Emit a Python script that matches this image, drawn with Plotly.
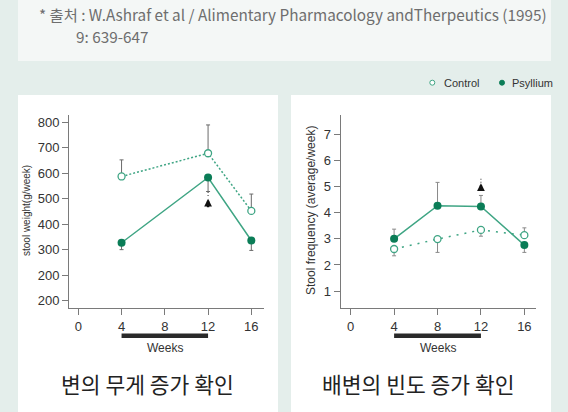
import plotly.graph_objects as go

W, H = 568, 412

# ---------------- data ----------------
weeks_w = [4, 12, 16]
weight_control = [587, 678, 452]
weight_control_err_up = [65, 111, 66]
weight_psyllium = [327, 583, 336]
weight_psyllium_err_down = [27, 55, 39]

weeks_f = [4, 8, 12, 16]
freq_psyllium = [3.0, 4.27, 4.24, 2.76]
freq_psyllium_err_up = [0.37, 0.89, 0.42, 0.0]
freq_psyllium_err_down = [0.0, 0.0, 0.0, 0.28]
freq_control = [2.61, 2.99, 3.34, 3.14]
freq_control_err_up = [0.0, 0.0, 0.0, 0.28]
freq_control_err_down = [0.26, 0.51, 0.24, 0.0]

x_ticks = [0, 4, 8, 12, 16]
weight_tickvals = [100, 200, 300, 400, 500, 600, 700, 800]
weight_ticktext = ["200", "200", "300", "400", "500", "600", "700", "800"]
freq_tickvals = [1, 2, 3, 4, 5, 6, 7]

treatment_period = [4, 12]
arrow_week = 12
weight_arrow = [500, 460]       # tip, tail
weight_arrow_dots = [526, 503]
freq_arrow = [5.13, 4.78]
freq_arrow_dots = [5.30, 5.14]

title_left = "변의 무게 증가 확인"
title_right = "배변의 빈도 증가 확인"
source_line1 = "* 출처 : W.Ashraf et al / Alimentary Pharmacology andTherpeutics (1995)"
source_line2 = "9: 639-647"

# ---------------- style ----------------
GREEN = "#0b7d57"
LINE_GREEN = "#3fa584"
ERR = "#6a6a6a"
AX = "#7a7a7a"
TXT = "#333333"
LAT = "Liberation Sans, Arial, sans-serif"
KR = "Noto Sans CJK KR, sans-serif"


def px(x):
    return x / W


def py(y):
    return 1 - y / H


fig = go.Figure()

# left chart
fig.add_trace(go.Scatter(
    x=weeks_w, y=weight_control, mode="lines+markers", xaxis="x", yaxis="y",
    line=dict(color=LINE_GREEN, width=1.5, dash="2px,2px"),
    marker=dict(size=7, color="white", line=dict(color=LINE_GREEN, width=1.3)),
    error_y=dict(type="data", symmetric=False, array=weight_control_err_up,
                 arrayminus=[0] * 3, color=ERR, thickness=1, width=2),
    showlegend=False))
fig.add_trace(go.Scatter(
    x=weeks_w, y=weight_psyllium, mode="lines+markers", xaxis="x", yaxis="y",
    line=dict(color=LINE_GREEN, width=1.5),
    marker=dict(size=8, color=GREEN),
    error_y=dict(type="data", symmetric=False, array=[0] * 3,
                 arrayminus=weight_psyllium_err_down, color=ERR, thickness=1, width=2),
    showlegend=False))
fig.add_trace(go.Scatter(
    x=[arrow_week, arrow_week], y=weight_arrow_dots, mode="lines", xaxis="x", yaxis="y",
    line=dict(color="#333", width=1, dash="1px,2px"), showlegend=False, hoverinfo="skip"))

# right chart
fig.add_trace(go.Scatter(
    x=weeks_f, y=freq_control, mode="lines+markers", xaxis="x2", yaxis="y2",
    line=dict(color=LINE_GREEN, width=1.5, dash="2px,6px"),
    marker=dict(size=7, color="white", line=dict(color=LINE_GREEN, width=1.3)),
    error_y=dict(type="data", symmetric=False, array=freq_control_err_up,
                 arrayminus=freq_control_err_down, color="#8a8a8a", thickness=1, width=2),
    showlegend=False))
fig.add_trace(go.Scatter(
    x=weeks_f, y=freq_psyllium, mode="lines+markers", xaxis="x2", yaxis="y2",
    line=dict(color=LINE_GREEN, width=1.5),
    marker=dict(size=8, color=GREEN),
    error_y=dict(type="data", symmetric=False, array=freq_psyllium_err_up,
                 arrayminus=freq_psyllium_err_down, color="#8a8a8a", thickness=1, width=2),
    showlegend=False))
fig.add_trace(go.Scatter(
    x=[arrow_week, arrow_week], y=freq_arrow_dots, mode="lines", xaxis="x2", yaxis="y2",
    line=dict(color="#333", width=1, dash="1px,2px"), showlegend=False, hoverinfo="skip"))

# ---------------- shapes ----------------
shapes = [
    dict(type="rect", xref="paper", yref="paper", x0=px(18), x1=px(551), y0=py(61), y1=py(0),
         fillcolor="#f4f7f6", line=dict(width=0), layer="below"),
    dict(type="rect", xref="paper", yref="paper", x0=px(18), x1=px(278), y0=py(412), y1=py(95),
         fillcolor="white", line=dict(width=0), layer="below"),
    dict(type="rect", xref="paper", yref="paper", x0=px(291), x1=px(551), y0=py(412), y1=py(95),
         fillcolor="white", line=dict(width=0), layer="below"),
    # legend markers
    dict(type="circle", xref="paper", yref="paper", x0=px(429.8), x1=px(434.8),
         y0=py(85.2), y1=py(80.2), fillcolor="white", line=dict(color=LINE_GREEN, width=1)),
    dict(type="circle", xref="paper", yref="paper", x0=px(499.5), x1=px(504.5),
         y0=py(85.2), y1=py(80.2), fillcolor=GREEN, line=dict(color=GREEN, width=1)),
]
for xr, yr in (("x", "y domain"), ("x2", "y2 domain")):
    shapes.append(dict(type="rect", xref=xr, yref=yr, x0=treatment_period[0], x1=treatment_period[1],
                       y0=-0.154, y1=-0.130, fillcolor="#2a2a2a", line=dict(width=0)))


def note(text, x, y, size, family, color, xanchor="center", **kw):
    d = dict(text=text, xref="paper", yref="paper", x=x, y=y, xanchor=xanchor,
             yanchor="middle", showarrow=False, font=dict(family=family, size=size, color=color))
    d.update(kw)
    return d


ann = [
    note(source_line1, px(37), py(13.5), 15.3, KR, "#6e6e6e", xanchor="left"),
    note(source_line2, px(74), py(35.5), 15.3, KR, "#6e6e6e", xanchor="left"),
    note("Control", px(442), py(83), 11, LAT, TXT, xanchor="left"),
    note("Psyllium", px(510), py(83), 11, LAT, TXT, xanchor="left"),
    note("stool weight(g/week)", px(26), py(211), 10, LAT, TXT, textangle=-90),
    note("Stool frequency (average/week)", px(311), py(211), 12, LAT, TXT, textangle=-90),
    note(title_left, px(147), py(383.5), 21.5, KR, "#222"),
    note(title_right, px(418), py(383.5), 21.5, KR, "#222"),
    dict(text="Weeks", xref="x", yref="y domain", x=8, y=-0.205, xanchor="center",
         yanchor="middle", showarrow=False, font=dict(family=LAT, size=12, color=TXT)),
    dict(text="Weeks", xref="x2", yref="y2 domain", x=8, y=-0.205, xanchor="center",
         yanchor="middle", showarrow=False, font=dict(family=LAT, size=12, color=TXT)),
    dict(text="", xref="x", yref="y", x=arrow_week, y=weight_arrow[0], axref="x", ayref="y",
         ax=arrow_week, ay=weight_arrow[1], showarrow=True, arrowhead=2, arrowsize=0.65,
         arrowwidth=2.4, arrowcolor="#111"),
    dict(text="", xref="x2", yref="y2", x=arrow_week, y=freq_arrow[0], axref="x2", ayref="y2",
         ax=arrow_week, ay=freq_arrow[1], showarrow=True, arrowhead=2, arrowsize=0.65,
         arrowwidth=2.4, arrowcolor="#111"),
]

axis_common = dict(showline=True, linecolor=AX, linewidth=1, ticks="outside", tickcolor=AX,
                   ticklen=6, tickwidth=1, showgrid=False, zeroline=False,
                   tickfont=dict(family=LAT, size=13, color=TXT))

fig.update_layout(
    width=W, height=H, margin=dict(l=0, r=0, t=0, b=0),
    paper_bgcolor="#e4eeeb", plot_bgcolor="rgba(0,0,0,0)",
    xaxis=dict(domain=[px(69), px(264.3)], range=[-0.86, 17.2], tickvals=x_ticks,
               anchor="y", **axis_common),
    yaxis=dict(domain=[py(308.3), py(115)], range=[70, 828], tickvals=weight_tickvals,
               ticktext=weight_ticktext, anchor="x", **axis_common),
    xaxis2=dict(domain=[px(340.7), px(536.3)], range=[-0.92, 17.1], tickvals=x_ticks,
                anchor="y2", **axis_common),
    yaxis2=dict(domain=[py(308.3), py(115)], range=[0.34, 7.74], tickvals=freq_tickvals,
                anchor="x2", **axis_common),
    shapes=shapes, annotations=ann,
)

fig.write_html("out.html", config={"displayModeBar": False},
               post_script="document.body.style.margin='0';document.body.style.overflow='hidden';")
